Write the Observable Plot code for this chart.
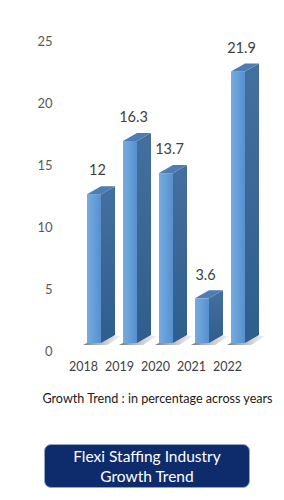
<!DOCTYPE html>
<html>
<head>
<meta charset="utf-8">
<script src="https://cdn.jsdelivr.net/npm/d3@7"></script>
<script src="https://cdn.jsdelivr.net/npm/@observablehq/plot@0.6"></script>
<style>
  html, body { margin: 0; padding: 0; background: #ffffff; }
  #wrap { position: relative; width: 284px; height: 500px; font-family: Lato, "Open Sans", sans-serif; }
  #caption { position: absolute; left: 0; width: 284px; top: 391px; padding-left: 31px; box-sizing: border-box; text-align: center; font-size: 12.6px; color: #1a1a1a; white-space: nowrap; }
  #badge { position: absolute; left: 44px; top: 444px; width: 206px; height: 44px; box-sizing: border-box; border: 1.5px solid #8fa6c6; border-radius: 7px; background: #0e2c6c; color: #ffffff; font-size: 15.5px; line-height: 19.5px; text-align: center; padding-top: 2px; }
</style>
</head>
<body>
<div id="wrap">
  <div id="chart"></div>
  <div id="caption">Growth Trend : in percentage across years</div>
  <div id="badge">Flexi Staffing Industry<br>Growth Trend</div>
</div>
<script>
const years = ["2018", "2019", "2020", "2021", "2022"];
const growth = [12, 16.3, 13.7, 3.6, 21.9];
const yTicks = [0, 5, 10, 15, 20, 25];
const labels = ["12", "16.3", "13.7", "3.6", "21.9"];

const data = years.map((year, i) => ({year, value: growth[i], label: labels[i]}));

const DX = 14, DY = 8; // depth of the 3D extrusion in pixels

const chart = Plot.plot({
  width: 284,
  height: 385,
  marginTop: 33,
  marginBottom: 42,
  marginLeft: 76,
  marginRight: 28,
  style: {fontFamily: "Lato, 'Open Sans', sans-serif", background: "#ffffff"},
  x: {domain: years, padding: 0, label: null},
  y: {domain: [0, 25], label: null},
  marks: [
    // floor line
    Plot.ruleY([0], {x1: "2018", x2: "2022", stroke: "#d9d9d9", strokeWidth: 1.2, dy: 7,
      render(index, scales, values, dimensions, context, next) {
        const g = next(index, scales, values, dimensions, context);
        g.querySelectorAll("line").forEach(l => {
          l.setAttribute("x1", 64);
          l.setAttribute("x2", scales.x("2022") + scales.x.bandwidth() - 11);
        });
        return g;
      }}),
    Plot.axisY(yTicks, {tickSize: 0, tickPadding: 24, dy: 8, fontSize: 13, fill: "#595959", tickFormat: d => d, label: null}),
    Plot.axisX({tickSize: 0, tickPadding: 19, dx: -11, fontSize: 12.5, fill: "#404040", label: null}),
    Plot.barY(data, {
      x: "year", y: "value", insetLeft: 11, insetRight: 11, fill: "url(#frontGrad)",
      render(index, scales, values, dimensions, context, next) {
        const g = next(index, scales, values, dimensions, context);
        const ns = "http://www.w3.org/2000/svg";
        const rects = Array.from(g.querySelectorAll("rect"));
        const under = document.createElementNS(ns, "g");
        const over = document.createElementNS(ns, "g");
        for (const r of rects) {
          const x = +r.getAttribute("x"), y = +r.getAttribute("y");
          const w = +r.getAttribute("width"), h = +r.getAttribute("height");
          const b = y + h;
          const poly = (pts, fill, parent) => {
            const p = document.createElementNS(ns, "polygon");
            p.setAttribute("points", pts.map(q => q.join(",")).join(" "));
            p.setAttribute("fill", fill);
            parent.appendChild(p);
          };
          // floor shadow
          poly([[x - 4, b + 2], [x + w + 6, b + 2], [x + w + DX + 6, b - DY + 1], [x + DX, b - DY + 1]], "url(#shadowGrad)", under);
          // side face
          poly([[x + w, y], [x + w + DX, y - DY], [x + w + DX, b - DY], [x + w, b]], "url(#sideGrad)", over);
          // top face
          poly([[x, y], [x + DX, y - DY], [x + w + DX, y - DY], [x + w, y]], "#4d7db3", over);
        }
        g.insertBefore(under, g.firstChild);
        g.appendChild(over);
        return g;
      }
    }),
    Plot.text(data, {x: "year", y: "value", text: "label", dy: -24, dx: 3, fontSize: 14.5, fill: "#404040"})
  ]
});

const defs = d3.create("svg:defs");
const fg = defs.append("linearGradient").attr("id", "frontGrad").attr("x1", 0).attr("x2", 1).attr("y1", 0).attr("y2", 0);
fg.append("stop").attr("offset", 0).attr("stop-color", "#78acdf");
fg.append("stop").attr("offset", 1).attr("stop-color", "#5591cf");
const sg = defs.append("linearGradient").attr("id", "sideGrad").attr("x1", 0).attr("x2", 0).attr("y1", 0).attr("y2", 1);
sg.append("stop").attr("offset", 0).attr("stop-color", "#44709f");
sg.append("stop").attr("offset", 1).attr("stop-color", "#2f5d8d");
const shg = defs.append("linearGradient").attr("id", "shadowGrad").attr("x1", 0).attr("x2", 1).attr("y1", 0).attr("y2", 0);
shg.append("stop").attr("offset", 0).attr("stop-color", "#4a4a4a").attr("stop-opacity", 0.75);
shg.append("stop").attr("offset", 1).attr("stop-color", "#9a9a9a").attr("stop-opacity", 0.15);
chart.insertBefore(defs.node(), chart.firstChild);

document.getElementById("chart").appendChild(chart);
</script>
</body>
</html>
